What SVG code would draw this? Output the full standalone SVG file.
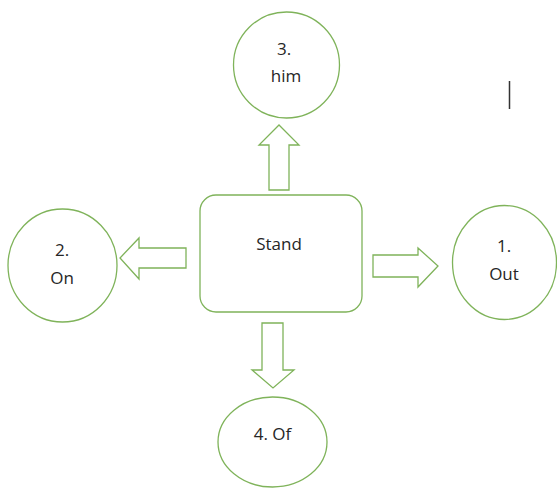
<svg xmlns="http://www.w3.org/2000/svg" width="557" height="488" viewBox="0 0 557 488">
<style>
.n{fill:#fff;stroke:#7fb35a;stroke-width:1.3}
.a{fill:#fff;stroke:#7fb35a;stroke-width:1.3;stroke-linejoin:miter}
text{font-family:"Open Sans","Liberation Sans",sans-serif;font-size:17px;fill:#262626;text-anchor:middle}
</style>
<rect width="557" height="488" fill="#fff"/>
<g id="connectors">
<polygon class="a" points="269,190 269,145 259,145 279,125 299,145 289,145 289,190"/>
<polygon class="a" points="186,248 139,248 139,238 120,258 139,279 139,268 186,268"/>
<polygon class="a" points="373,255 418,255 418,248 438,266 418,287 418,277 373,277"/>
<polygon class="a" points="262,323 262,370 252,370 273,388 294,370 283,370 283,323"/>
</g>
<g id="stand">
<rect class="n" x="200" y="195" width="162" height="117" rx="16"/>
<text x="279" y="250">Stand</text>
</g>
<g id="him">
<circle class="n" cx="286.5" cy="65" r="53"/>
<text x="284" y="55">3.</text>
<text x="286" y="82">him</text>
</g>
<g id="on">
<ellipse class="n" cx="62.5" cy="265.5" rx="54.5" ry="56.5"/>
<text x="62" y="256">2.</text>
<text x="62" y="284">On</text>
</g>
<g id="out">
<ellipse class="n" cx="504.5" cy="262.5" rx="52" ry="57"/>
<text x="504" y="252">1.</text>
<text x="504" y="280">Out</text>
</g>
<g id="of">
<ellipse class="n" cx="272.5" cy="442" rx="54.5" ry="45"/>
<text x="272.5" y="440">4. Of</text>
</g>
<line x1="509.5" y1="81" x2="509.5" y2="109" stroke="#333" stroke-width="1.5"/>
</svg>
